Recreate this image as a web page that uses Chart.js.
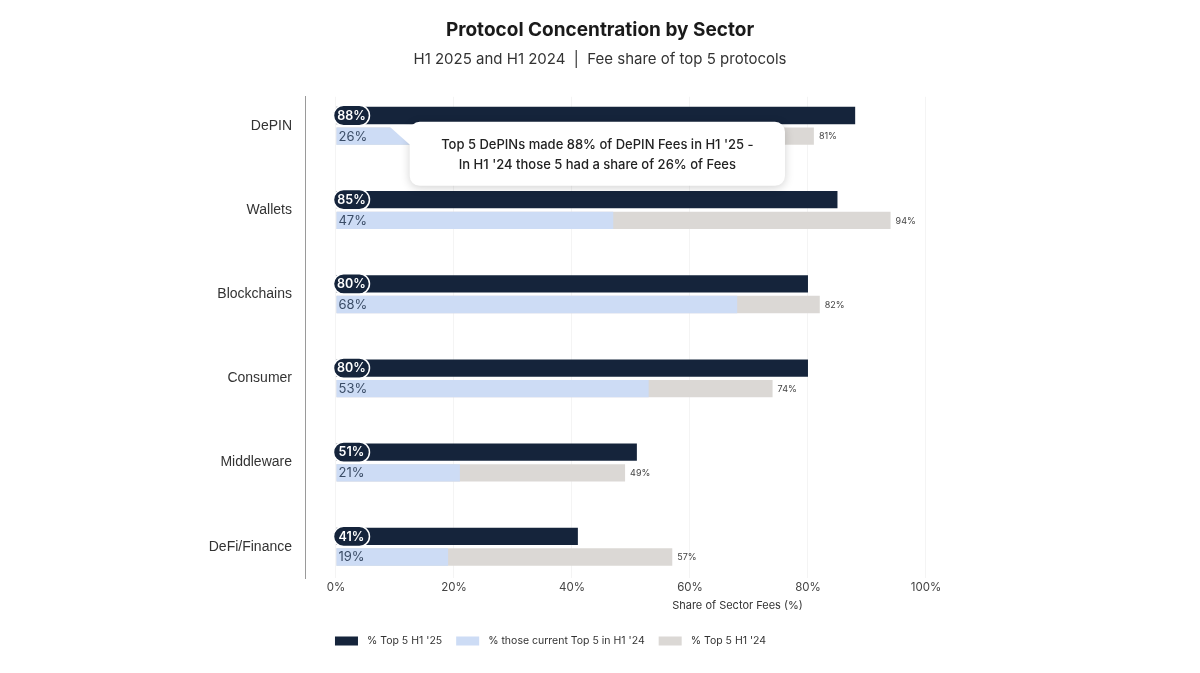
<!DOCTYPE html>
<html>
<head>
<meta charset="utf-8">
<script src="https://cdn.jsdelivr.net/npm/chart.js@4.4.1/dist/chart.umd.min.js"></script>
<style>
  body { margin: 0; background: #fff; }
</style>
</head>
<body>
<canvas id="sectorChart" width="1200" height="673"></canvas>
<script>
const CHART = document.getElementById('sectorChart')

const categories = ['DePIN', 'Wallets', 'Blockchains', 'Consumer', 'Middleware', 'DeFi/Finance']
const top5H125 = [88, 85, 80, 80, 51, 41]
const sameTop5H124 = [26, 47, 68, 53, 21, 19]
const top5H124 = [81, 94, 82, 74, 49, 57]
const xTicks = [0, 20, 40, 60, 80, 100]

const NAVY = '#15243b'
const LIGHT = '#cddcf5'
const GREY = '#dbd8d5'

const toPoints = (arr) => arr.map((v, i) => ({ x: v, y: i }))

// labels on the bars: pill for H1 '25, inside label for light blue, small label at grey end
const barLabels = {
    id: 'barLabels',
    afterDatasetsDraw(chart) {
        const ctx = chart.ctx
        ctx.save()
        chart.data.datasets.forEach((ds, di) => {
            const meta = chart.getDatasetMeta(di)
            meta.data.forEach((bar, i) => {
                const txt = ds.data[i].x + '%'
                const y = bar.y
                if (di === 0) {
                    const h = bar.height + 3
                    ctx.beginPath()
                    ctx.roundRect(bar.base - 3, y - h / 2, 36, h, h / 2)
                    ctx.fillStyle = NAVY
                    ctx.fill()
                    ctx.lineWidth = 1.5
                    ctx.strokeStyle = '#ffffff'
                    ctx.stroke()
                    ctx.fillStyle = '#ffffff'
                    ctx.font = '600 12.5px Inter'
                    ctx.textAlign = 'center'
                    ctx.textBaseline = 'middle'
                    ctx.fillText(txt, bar.base + 15, y + 0.5)
                } else if (di === 1) {
                    ctx.fillStyle = '#3a4c66'
                    ctx.font = '13px Inter'
                    ctx.textAlign = 'left'
                    ctx.textBaseline = 'middle'
                    ctx.fillText(txt, bar.base + 2, y + 0.5)
                } else {
                    ctx.fillStyle = '#444444'
                    ctx.font = '9px Inter'
                    ctx.textAlign = 'left'
                    ctx.textBaseline = 'middle'
                    ctx.fillText(txt, bar.x + 5, y + 0.5)
                }
            })
        })
        ctx.restore()
    }
}

// callout box over DePIN + legend under the axis
const extras = {
    id: 'extras',
    afterDraw(chart) {
        const ctx = chart.ctx
        const xs = chart.scales.x
        const ys = chart.scales.y
        const cy = ys.getPixelForValue(0)
        const left = xs.getPixelForValue(12.5)
        const right = xs.getPixelForValue(76.1)
        const top = cy - 4
        const bottom = cy + 60

        ctx.save()
        ctx.shadowColor = 'rgba(0,0,0,0.18)'
        ctx.shadowBlur = 10
        ctx.shadowOffsetY = 2
        ctx.fillStyle = '#ffffff'
        ctx.beginPath()
        ctx.roundRect(left, top, right - left, bottom - top, 10)
        ctx.fill()
        ctx.shadowColor = 'transparent'
        ctx.beginPath()
        ctx.moveTo(left - 20, top + 5)
        ctx.lineTo(left + 30, top + 1)
        ctx.lineTo(left + 8, top + 30)
        ctx.closePath()
        ctx.fill()
        ctx.fillStyle = '#222222'
        ctx.font = '500 13px Inter'
        ctx.textAlign = 'center'
        ctx.textBaseline = 'middle'
        const mid = (left + right) / 2
        ctx.fillText("Top 5 DePINs made 88% of DePIN Fees in H1 '25 -", mid, top + 23)
        ctx.fillText("In H1 '24 those 5 had a share of 26% of Fees", mid, top + 43)

        // legend
        let lx = xs.getPixelForValue(0) - 1
        const ly = 641
        ctx.font = '10.5px Inter'
        ctx.textAlign = 'left'
        chart.data.datasets.forEach((ds) => {
            ctx.fillStyle = ds.backgroundColor
            ctx.fillRect(lx, ly - 4.5, 23, 9)
            ctx.fillStyle = '#333333'
            ctx.fillText(ds.label, lx + 32, ly)
            lx += 32 + ctx.measureText(ds.label).width + 14
        })
        ctx.restore()
    }
}

let chart = new Chart(CHART, {
    type: 'bar',
    data: {
        datasets: [
            {
                label: "% Top 5 H1 '25",
                data: toPoints(top5H125),
                backgroundColor: NAVY,
                stack: 'a'
            },
            {
                label: "% those current Top 5 in H1 '24",
                data: toPoints(sameTop5H124),
                backgroundColor: LIGHT,
                stack: 'b'
            },
            {
                label: "% Top 5 H1 '24",
                data: toPoints(top5H124),
                backgroundColor: GREY,
                stack: 'b'
            }
        ]
    },
    plugins: [barLabels, extras],
    options: {
        responsive: false,
        animation: false,
        indexAxis: 'y',
        categoryPercentage: 0.49,
        barPercentage: 0.84,
        layout: { padding: { left: 30, right: 30, top: 0, bottom: 0 } },
        plugins: {
            legend: { display: false },
            tooltip: { enabled: false },
            title: {
                display: true,
                text: 'Protocol Concentration by Sector',
                color: '#1a1a1a',
                font: { family: 'Inter', size: 19, weight: '700' },
                padding: { top: 19, bottom: 6 }
            },
            subtitle: {
                display: true,
                text: 'H1 2025 and H1 2024  |  Fee share of top 5 protocols',
                color: '#333333',
                font: { family: 'Inter', size: 15 },
                padding: { top: 3, bottom: 28 }
            }
        },
        scales: {
            x: {
                type: 'linear',
                stacked: false,
                min: -5.25,
                max: 141.36,
                afterBuildTicks: (scale) => { scale.ticks = xTicks.map(v => ({ value: v })) },
                afterFit: (scale) => { scale.height = 95 },
                ticks: {
                    callback: (v) => v + '%',
                    color: '#444444',
                    font: { family: 'Inter', size: 11.5 },
                    padding: 3,
                    maxRotation: 0
                },
                grid: { color: '#f4f4f4', drawTicks: false },
                border: { display: false },
                title: {
                    display: true,
                    text: 'Share of Sector Fees (%)',
                    color: '#333333',
                    font: { family: 'Inter', size: 11 },
                    padding: { top: 0, bottom: 61 }
                }
            },
            y: {
                type: 'linear',
                stacked: true,
                reverse: true,
                offset: false,
                min: -0.345,
                max: 5.372,
                afterBuildTicks: (scale) => { scale.ticks = categories.map((c, i) => ({ value: i })) },
                afterFit: (scale) => { scale.width = 275 },
                ticks: {
                    callback: (v) => categories[v],
                    color: '#333333',
                    font: { family: 'Liberation Sans', size: 14 },
                    padding: 5
                },
                grid: { display: false },
                border: { display: true, color: '#9a9a9a', width: 1 }
            }
        }
    }
})
</script>
</body>
</html>
